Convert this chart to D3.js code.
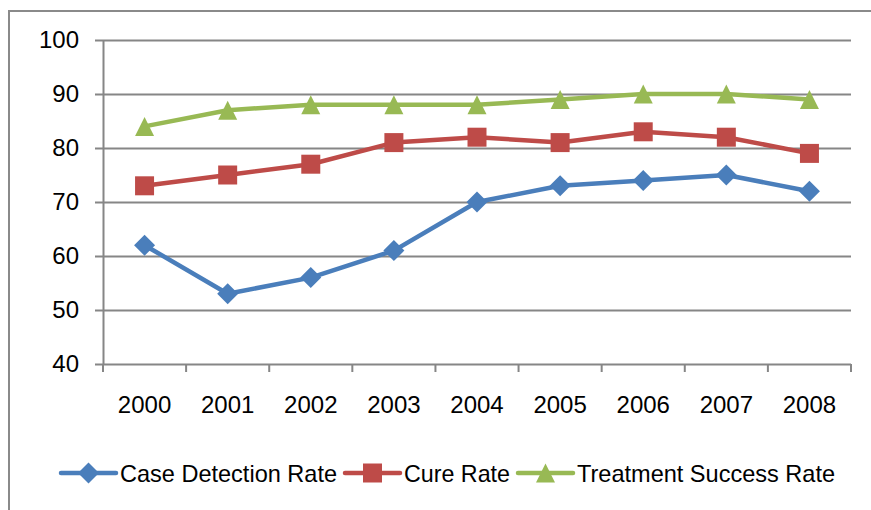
<!DOCTYPE html>
<html><head><meta charset="utf-8">
<script src="https://cdn.jsdelivr.net/npm/d3@7"></script>
<style>body{margin:0;background:#fff}svg{display:block}text{font-family:"Liberation Sans",Arial,sans-serif;fill:#000}</style>
</head><body>
<svg id="c" width="871" height="510"></svg>
<script>
const years = ["2000","2001","2002","2003","2004","2005","2006","2007","2008"];
const caseDetection = [62,53,56,61,70,73,74,75,72];
const cureRate = [73,75,77,81,82,81,83,82,79];
const treatmentSuccess = [84,87,88,88,88,89,90,90,89];
const yTicks = [40,50,60,70,80,90,100];
const seriesNames = ["Case Detection Rate","Cure Rate","Treatment Success Rate"];
const seriesColors = ["#4a7ebb","#be4b48","#98b954"];
const seriesValues = [caseDetection, cureRate, treatmentSuccess];

const diamond = {draw(ctx,s){const h=s/2;ctx.moveTo(0,-h);ctx.lineTo(h,0);ctx.lineTo(0,h);ctx.lineTo(-h,0);ctx.closePath();}};
const square = {draw(ctx,s){const h=s/2;ctx.rect(-h,-h,s,s);}};
const triangle = {draw(ctx,s){const h=s/2;ctx.moveTo(0,-h);ctx.lineTo(h,h);ctx.lineTo(-h,h);ctx.closePath();}};
const seriesShapes = [diamond, square, triangle];
const symSize=[21,19,19];
const legendTextWidth=[217,106,258];

const svg = d3.select("#c");
svg.append("rect").attr("x",9).attr("y",11).attr("width",900).attr("height",540)
  .attr("fill","none").attr("stroke","#8a8a8a").attr("stroke-width",2);

const L=103, R=851, T=40, B=364;
const x = d3.scaleBand().domain(years).range([L,R]);
const y = d3.scaleLinear().domain([40,100]).range([B,T]);
const grid="#868686";
const FS=24;

svg.append("g").selectAll("line").data(yTicks).join("line")
  .attr("x1",L-8).attr("x2",R).attr("y1",d=>Math.round(y(d))+0.5).attr("y2",d=>Math.round(y(d))+0.5)
  .attr("stroke",grid).attr("stroke-width",2);
const ya = svg.append("g").attr("transform",`translate(${L},0)`)
  .call(d3.axisLeft(y).tickValues(yTicks).tickSize(0).tickPadding(24));
ya.select(".domain").attr("stroke",grid).attr("stroke-width",2);
ya.selectAll("text").attr("font-size",FS).attr("font-family","Liberation Sans, Arial, sans-serif").attr("fill","#000");
const xa = svg.append("g").attr("transform",`translate(0,${B})`)
  .call(d3.axisBottom(x).tickSize(0).tickPadding(32));
xa.select(".domain").remove();
xa.selectAll("text").attr("font-size",FS).attr("font-family","Liberation Sans, Arial, sans-serif").attr("fill","#000");
const bounds = years.map(v=>x(v)).concat([R]);
svg.append("g").selectAll("line").data(bounds).join("line")
  .attr("x1",d=>d).attr("x2",d=>d).attr("y1",B).attr("y2",B+8)
  .attr("stroke",grid).attr("stroke-width",2);

const cx = d=>x(d)+x.bandwidth()/2;
const line = d3.line().x((d,i)=>cx(years[i])).y(d=>y(d));
seriesValues.forEach((vals,si)=>{
  svg.append("path").datum(vals).attr("d",line).attr("fill","none")
    .attr("stroke",seriesColors[si]).attr("stroke-width",4.5).attr("stroke-linejoin","round").attr("stroke-linecap","round");
});
seriesValues.forEach((vals,si)=>{
  svg.append("g").selectAll("path").data(vals).join("path")
    .attr("d",d3.symbol().type(seriesShapes[si]).size(symSize[si]))
    .attr("transform",(d,i)=>`translate(${cx(years[i])},${y(d)})`)
    .attr("fill",seriesColors[si]);
});

let lx=61; const ly=473;
seriesNames.forEach((n,si)=>{
  const g=svg.append("g");
  g.append("line").attr("x1",lx).attr("x2",lx+55).attr("y1",ly).attr("y2",ly)
    .attr("stroke",seriesColors[si]).attr("stroke-width",4.5).attr("stroke-linecap","round");
  g.append("path").attr("d",d3.symbol().type(seriesShapes[si]).size(symSize[si]))
    .attr("transform",`translate(${lx+27.5},${ly})`).attr("fill",seriesColors[si]);
  g.append("text").attr("x",lx+59).attr("y",ly+9).attr("font-size",FS)
    .attr("textLength",legendTextWidth[si]).attr("lengthAdjust","spacingAndGlyphs").text(n);
  lx += 59 + legendTextWidth[si] + 8;
});
</script>
</body></html>
